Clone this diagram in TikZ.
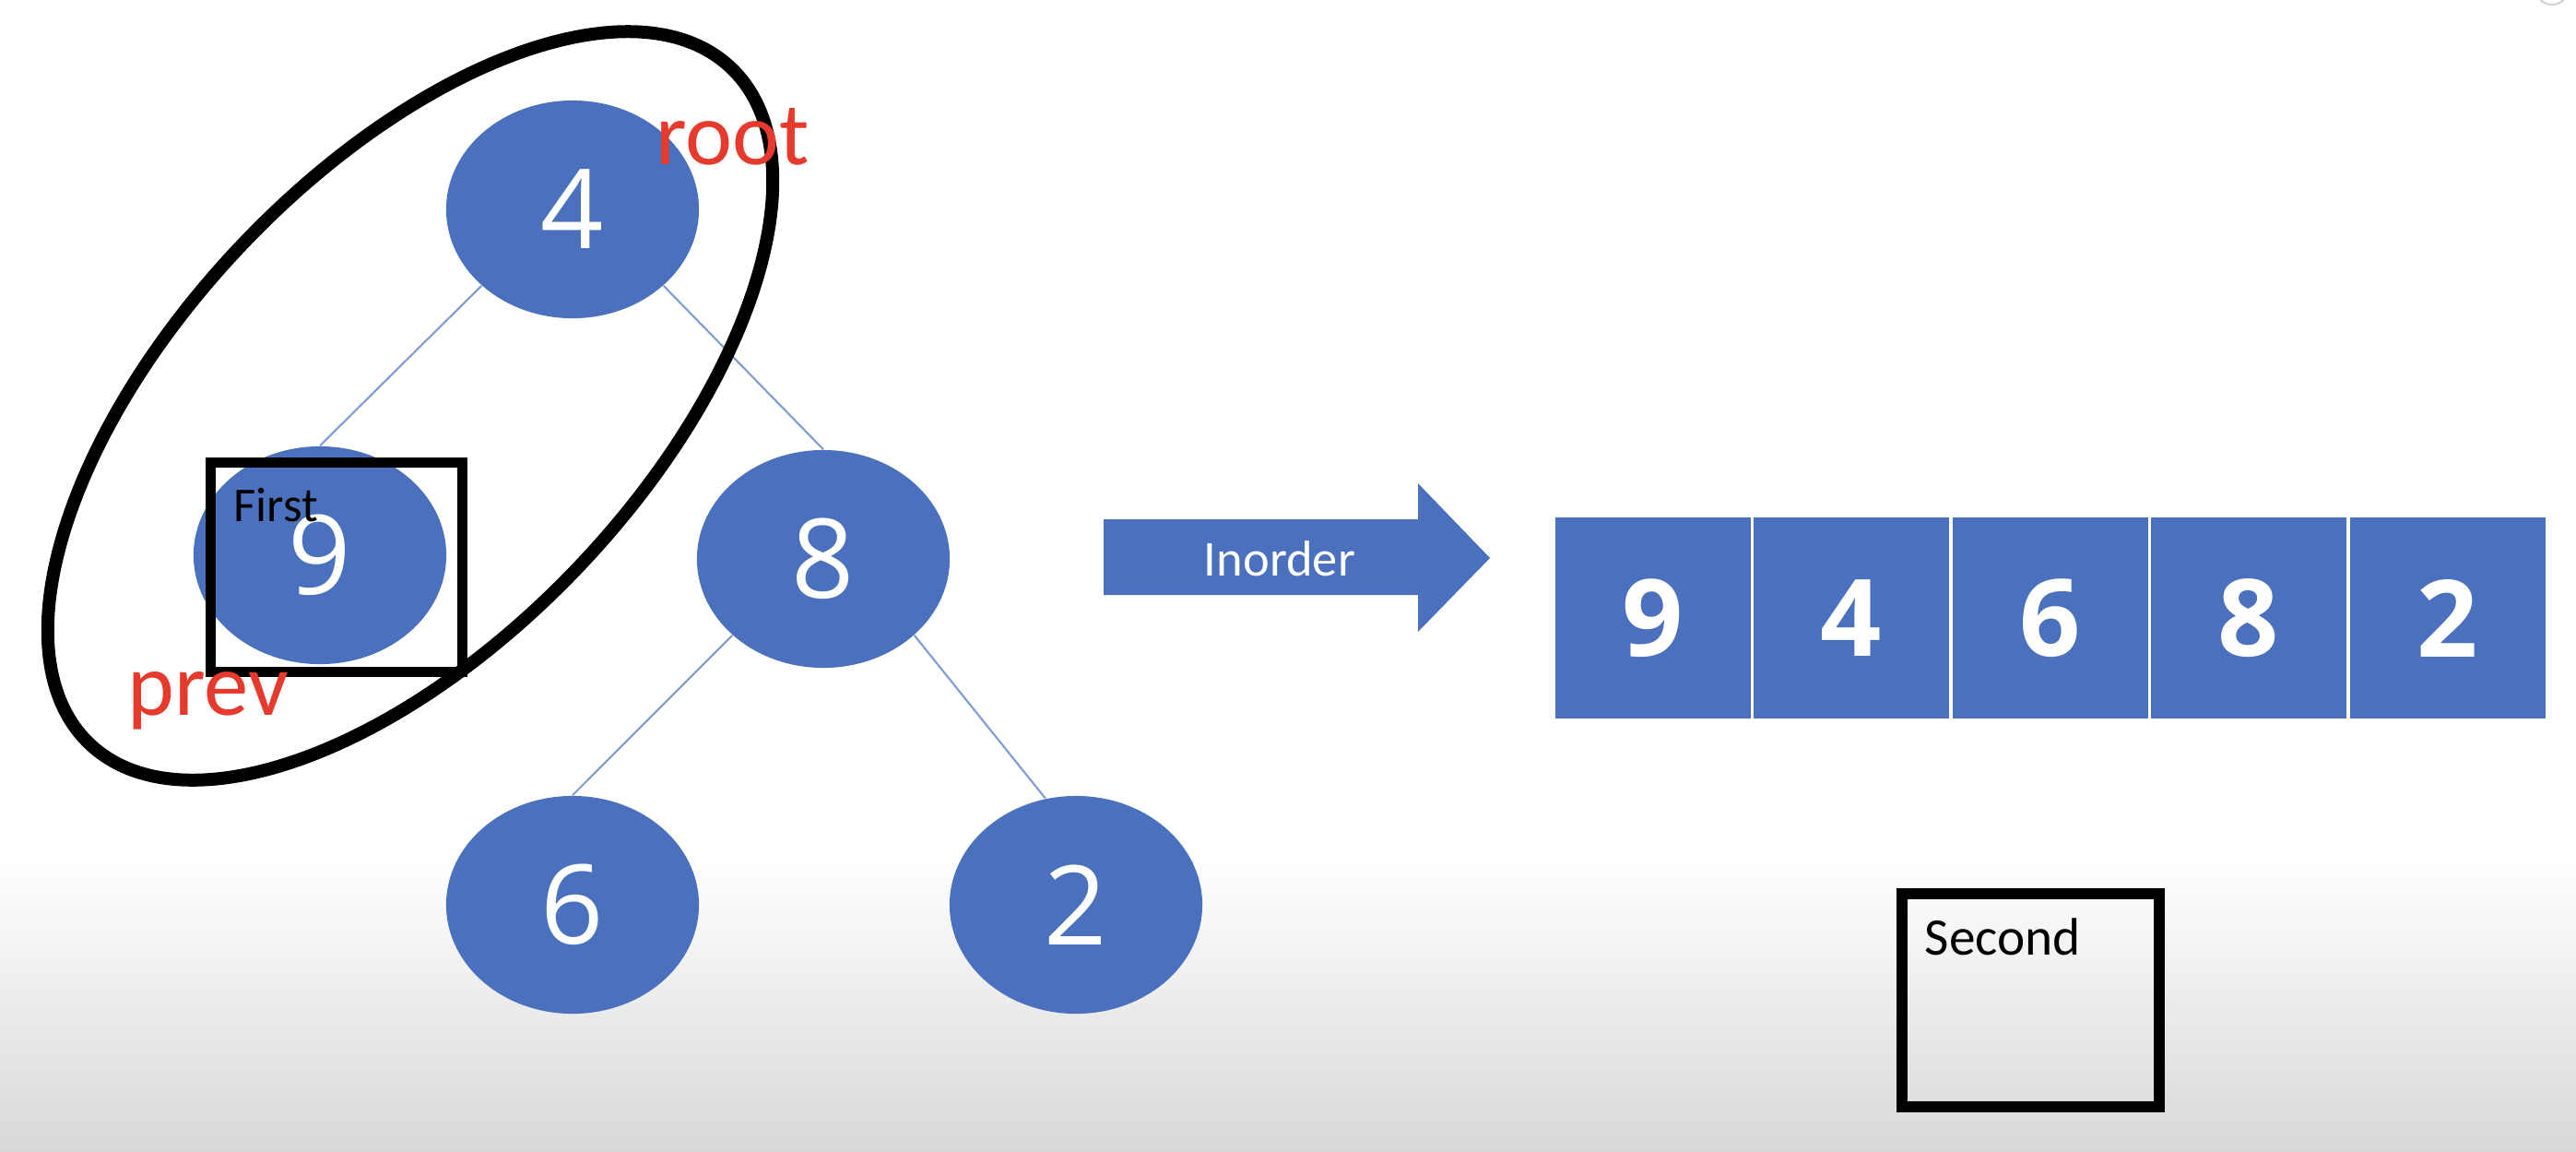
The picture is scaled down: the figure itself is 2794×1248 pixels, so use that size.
\documentclass[tikz,border=0pt]{standalone}
\usepackage{fontspec}
\setmainfont{Carlito}
\newfontfamily\digitfont{Open Sans}
\usetikzlibrary{shapes.geometric}
\definecolor{nodeblue}{HTML}{4A70BE}
\definecolor{edgeblue}{HTML}{7F9CD6}
\definecolor{labelred}{HTML}{E53A2C}
\definecolor{bggray}{HTML}{D8D8D8}
\tikzset{
  treenode/.style={ellipse, fill=nodeblue, draw=none, inner sep=0pt,
    minimum width=2.74cm, minimum height=2.36cm, text=white,
    font=\digitfont\fontsize{34}{36}\selectfont},
  edge/.style={draw=edgeblue, line width=0.6pt},
  cell/.style={rectangle, fill=nodeblue, draw=white, line width=0.8pt, inner sep=0pt,
    minimum width=2.154cm, minimum height=2.2cm, text=white,
    font=\digitfont\fontsize{33}{36}\selectfont\bfseries},
  redlabel/.style={text=labelred, inner sep=0pt, font=\fontsize{27.5}{30}\selectfont},
  boxlabel/.style={text=black, inner sep=0pt},
  markbox/.style={rectangle, draw=black, inner sep=0pt}
}
\begin{document}
\begin{tikzpicture}[x=0.01cm, y=-0.01cm]
  \clip (0,0) rectangle (2794,1248);
  \fill[white] (0,0) rectangle (2794,1248);
  \shade[top color=white, bottom color=bggray] (0,930) rectangle (2794,1248);
  \draw[gray!35, line width=0.02cm] (2768,-13) circle [radius=0.18cm];

  % tree
  \node[treenode] (n4) at (621,227) {4};
  \node[treenode] (n9) at (347,602) {9};
  \node[treenode] (n8) at (893,606) {8};
  \node[treenode] (n6) at (621,981) {6};
  \node[treenode] (n2) at (1167,981) {2};
  \draw[edge] (n4.220) -- (n9.north);
  \draw[edge] (n4.320) -- (n8.north);
  \draw[edge] (n8.220) -- (n6.north);
  \draw[edge] (n8.320) -- (n2.106);

  % enclosing ellipse
  \node[ellipse, draw=black, line width=0.14cm, rotate=46.5, inner sep=0pt,
        minimum width=10.1cm, minimum height=5.05cm] (ring) at (445,440) {};

  % First box
  \node[markbox, line width=0.11cm, minimum width=2.73cm, minimum height=2.27cm] (firstbox) at (365,615) {};
  \node[boxlabel, anchor=base west, font=\fontsize{15}{17}\selectfont] (firstlbl) at (253,565) {First};

  % red labels
  \node[redlabel, anchor=base west] (root) at (711,178) {root};
  \node[redlabel, anchor=base west] (prev) at (138,775) {prev};

  % Inorder arrow
  \fill[nodeblue] (1197,563) -- (1538,563) -- (1538,524) -- (1616,605)
     -- (1538,685) -- (1538,645) -- (1197,645) -- cycle;
  \node[text=white, inner sep=0pt, font=\fontsize{15.5}{17}\selectfont] (inorder) at (1388,606) {Inorder};

  % array
  \node[cell] (c1) at (1793,670) {9};
  \node[cell] (c2) at (2008,670) {4};
  \node[cell] (c3) at (2224,670) {6};
  \node[cell] (c4) at (2439,670) {8};
  \node[cell] (c5) at (2655,670) {2};

  % Second box
  \node[markbox, line width=0.127cm, minimum width=2.79cm, minimum height=2.31cm] (secondbox) at (2202.5,1084.5) {};
  \node[boxlabel, anchor=base west, font=\fontsize{16.3}{18}\selectfont] (secondlbl) at (2087,1035) {Second};
\end{tikzpicture}
\end{document}
